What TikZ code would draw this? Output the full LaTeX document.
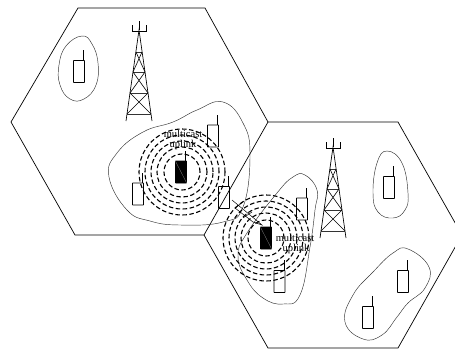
\documentclass[tikz,border=0pt]{standalone}
\usepackage{fontspec}
\setmainfont{Liberation Serif}
\usetikzlibrary{arrows.meta}

\tikzset{
  cell/.style={draw, line width=.7pt, line join=miter},
  blob/.style={draw=black!80, line width=.45pt, smooth cycle, tension=.75},
  ring/.style={draw, circle, line width=1.1pt, dash pattern=on 4.5pt off 2.5pt, minimum size=#1, inner sep=0pt},
  phone/.style={draw, line width=.8pt, minimum width=11pt, minimum height=22pt, inner sep=0pt,
    rounded corners=.4pt,
    append after command={([xshift=-1.5pt]\tikzlastnode.north east) edge[line width=.8pt] ++(0,-10)}},
  darkphone/.style={phone, fill=black},
  caption/.style={font=\fontsize{10.5}{11}\selectfont, inner sep=0pt},
  tower/.pic={
    \draw[line width=.6pt] (0,21) -- (0,30) (-7,25) -- (-7,31) -- (7,31) -- (7,25);
    \draw[line width=.7pt] (-13,121) -- (0,30) -- (13,121);
    \draw[line width=.9pt,black!80] (-3,52) -- (3,52) (-6,72) -- (6,72) (-9,93) -- (9,93) (-12,114) -- (12,114);
    \draw[line width=.6pt] (-3,52) -- (6,72) -- (-9,93) -- (12,114)
                           (3,52) -- (-6,72) -- (9,93) -- (-12,114);
  },
}

\begin{document}
\begin{tikzpicture}[x=1pt, y=-1pt, >=Stealth]
  \useasboundingbox (0,0) rectangle (455,349);

  % cells
  \draw[cell] (78,8) -- (205,8) -- (268,122) -- (204,235) -- (75,235) -- (11,122) -- cycle;
  \draw[cell] (268,122) -- (398,122) -- (462,235) -- (398,348) -- (268,348) -- (204,235);

  % groups of phones
  \draw[blob] plot coordinates {(82,36) (92,44) (98,63) (96,85) (84,99) (70,99) (60,85) (59,65) (66,46)};
  \draw[blob] plot coordinates {(223,102) (243,123) (250,155) (243,207) (223,222) (180,225) (150,221) (127,210) (109,177) (117,153) (143,132) (173,122) (197,110)};
  \draw[blob] plot coordinates {(305,175) (317,190) (315,210) (310,247) (300,295) (283,304) (263,298) (247,280) (238,256) (247,233) (277,193) (293,177)};
  \draw[blob] plot coordinates {(387,151) (402,163) (408,193) (405,210) (393,218) (378,212) (373,193) (377,163)};
  \draw[blob] plot coordinates {(408,249) (429,267) (425,288) (408,303) (397,317) (382,335) (363,339) (345,322) (353,295) (373,272) (393,253)};

  % towers
  \pic at (139,0) {tower};
  \pic at (333,117) {tower};

  % multicast rings
  \foreach \r in {36,50,62,74,86} {
    \node[ring=\r pt] at (182,172) {};
    \node[ring=\r pt] at (266,238) {};
  }

  % phones
  \node[phone]     (phoneA) at (79,71.5)    {};
  \node[phone]     (phoneB) at (213,136)    {};
  \node[phone]     (phoneC) at (138,194)    {};
  \node[phone]     (phoneD) at (224,197.5)  {};
  \node[darkphone] (txA)    at (181,172)    {};
  \node[darkphone] (txB)    at (266,238)    {};
  \node[phone]     (phoneE) at (302,209)    {};
  \node[phone]     (phoneF) at (279.5,281.5) {};
  \node[phone]     (phoneG) at (389,187.5)  {};
  \node[phone]     (phoneH) at (403,281.5)  {};
  \node[phone]     (phoneI) at (368,317.5)  {};

  % diagonal marks on the dark phones
  \draw[black!50, line width=.3pt] (txA.north west) -- (txA.south east);
  \draw[black!50, line width=.3pt] (txB.north west) -- (txB.south east);

  % interference
  \coordinate (tail) at (232,200);
  \coordinate (tip) at (262,225);
  \draw[line width=.5pt] (tail) -- (tip) -- (253,222) -- (235,208)
    (235,208) -- (243,202)
    (243,218) -- (252,212);

  % labels
  \node[caption] (mcA) at (183,134)   {multicast};
  \node[caption] (ulA) at (183,145)   {uplink};
  \node[caption] (mcB) at (295,238)   {multicast};
  \node[caption] (ulB) at (296,248.5) {uplink};
\end{tikzpicture}
\end{document}
